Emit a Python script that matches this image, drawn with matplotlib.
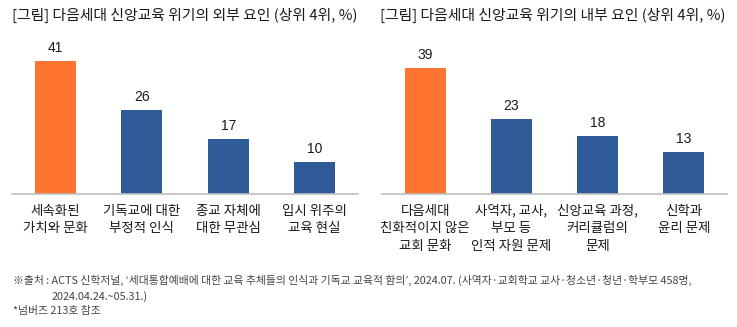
import matplotlib as mpl
mpl.use('Agg')
import matplotlib.pyplot as plt
import numpy as np

plt.rcParams['font.family'] = ['Noto Sans CJK KR', 'DejaVu Sans']

# data
ext_title = "[그림] 다음세대 신앙교육 위기의 외부 요인 (상위 4위, %)"
ext_labels = ["세속화된\n가치와 문화", "기독교에 대한\n부정적 인식", "종교 자체에\n대한 무관심", "입시 위주의\n교육 현실"]
ext_values = [41, 26, 17, 10]

int_title = "[그림] 다음세대 신앙교육 위기의 내부 요인 (상위 4위, %)"
int_labels = ["다음세대\n친화적이지 않은\n교회 문화", "사역자, 교사,\n부모 등\n인적 자원 문제", "신앙교육 과정,\n커리큘럼의\n문제", "신학과\n윤리 문제"]
int_values = [39, 23, 18, 13]

source_1 = "※출처 : ACTS 신학저널, ‘세대통합예배에 대한 교육 추체들의 인식과 기독교 교육적 함의’, 2024.07. (사역자·교회학교 교사·청소년·청년·학부모 458명,"
source_2 = "2024.04.24.~05.31.)"
note = "*넘버즈 213호 참조"

orange = '#FF7430'
blue = '#2F5B99'
W, H = 737, 327

fig = plt.figure(figsize=(W / 100, H / 100), dpi=100)

def fx(px):
    return px / W

def fy(py):
    return 1 - py / H

ymax = 45
base = 194
hpx = ymax * 3.24

def draw(x0, width, values, labels, title, title_x):
    ax = fig.add_axes([fx(x0), fy(base), fx(width), hpx / H])
    pos = np.arange(len(values))
    colors = [orange] + [blue] * (len(values) - 1)
    ax.bar(pos, values, width=0.475, color=colors)
    ax.set_xlim(-0.5, len(values) - 0.5)
    ax.set_ylim(0, ymax)
    for s in ['top', 'right', 'left']:
        ax.spines[s].set_visible(False)
    ax.spines['bottom'].set_color('#BFBFBF')
    ax.spines['bottom'].set_linewidth(1.2)
    ax.set_yticks([])
    ax.set_xticks(pos)
    ax.set_xticklabels(labels, fontsize=9.7, color='#1a1a1a', linespacing=1.34)
    ax.tick_params(axis='x', length=0, pad=7)
    for p, v in zip(pos, values):
        ax.annotate(str(v), (p, v), xytext=(0, 6.5), textcoords='offset points',
                    ha='center', va='baseline', fontsize=10, color='#1a1a1a',
                    family=['Liberation Sans', 'DejaVu Sans'])
    fig.text(fx(title_x), fy(15), title, fontsize=10.7, color='#1a1a1a', va='center', ha='left')

draw(12, 346, ext_values, ext_labels, ext_title, 12)
draw(382, 345, int_values, int_labels, int_title, 380)

fig.text(fx(13), fy(280), source_1, fontsize=7.8, color='#444444', va='center', ha='left')
fig.text(fx(52), fy(297), source_2, fontsize=7.8, color='#444444', va='center', ha='left')
fig.text(fx(13), fy(311), note, fontsize=7.8, color='#444444', va='center', ha='left')

fig.savefig('out.png', dpi=100)
